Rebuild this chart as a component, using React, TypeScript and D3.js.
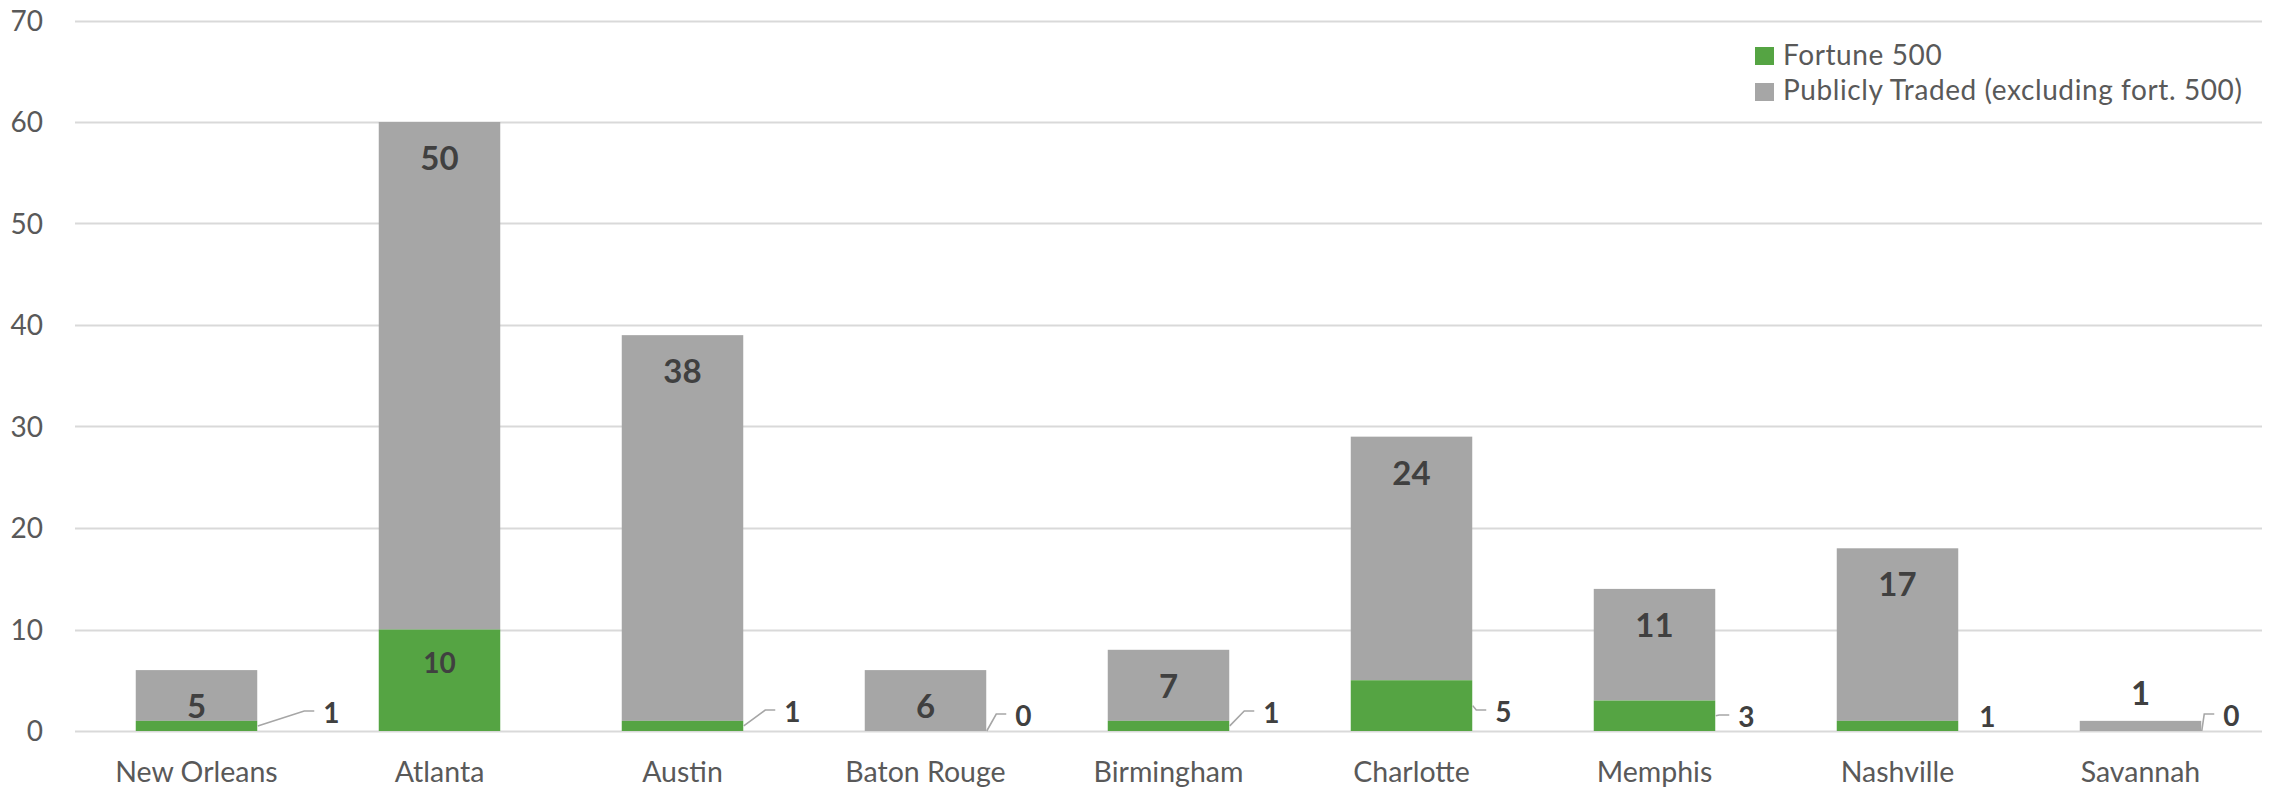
import React from "react";
import * as d3 from "d3";

const categories = ["New Orleans", "Atlanta", "Austin", "Baton Rouge", "Birmingham", "Charlotte", "Memphis", "Nashville", "Savannah"];
const fortune500 = [1, 10, 1, 0, 1, 5, 3, 1, 0];
const publiclyTraded = [5, 50, 38, 6, 7, 24, 11, 17, 1];
const yTicks = [0, 10, 20, 30, 40, 50, 60, 70];
const seriesNames = ["Fortune 500", "Publicly Traded (excluding fort. 500)"];

// label placement (style/layout config): callout offsets for Fortune 500 labels
const calloutLayout: ({ dx: number; dy: number; leader: boolean } | null)[] = [
  { dx: 66, dy: -18, leader: true },
  null,
  { dx: 41, dy: -19, leader: true },
  { dx: 29, dy: -15, leader: true },
  { dx: 34, dy: -18, leader: true },
  { dx: 23, dy: -19, leader: true },
  { dx: 23, dy: -14, leader: true },
  { dx: 21, dy: -14, leader: false },
  { dx: 22, dy: -15, leader: true },
];

const W = 2269;
const H = 787;
const GREEN = "#55A443";
const GRAY = "#A6A6A6";
const FONT = "Lato, 'Open Sans', sans-serif";

export default function App() {
  const x = d3.scaleBand<string>().domain(categories).range([75, 2262]).paddingInner(0.5).paddingOuter(0.25);
  const y = d3.scaleLinear().domain([0, 70]).range([731, 20.5]);
  const bw = x.bandwidth();

  return (
    <svg width={W} height={H} style={{ position: "absolute", left: 0, top: 0, background: "#fff" }} fontFamily={FONT}>
      {yTicks.map((t) => (
        <g key={t}>
          <line x1={75} x2={2262} y1={Math.round(y(t)) + 0.5} y2={Math.round(y(t)) + 0.5} stroke="#D9D9D9" strokeWidth={2} />
          <text x={43} y={y(t) + 0.36 * 28} textAnchor="end" fontSize={28} fill="#595959">{t}</text>
        </g>
      ))}
      {categories.map((c, i) => {
        const x0 = x(c)!;
        const f = fortune500[i];
        const p = publiclyTraded[i];
        const total = f + p;
        const grayH = y(f) - y(total);
        const grayLabelY = grayH < 40 ? y(total) - 28 : y(total) + 36;
        const cl = calloutLayout[i];
        const barRight = x0 + bw;
        let greenLabel: React.ReactNode = null;
        if (cl === null) {
          greenLabel = (
            <text x={x0 + bw / 2} y={y(f) + 33 + 0.36 * 28} textAnchor="middle" fontSize={28} fontWeight="bold" fill="#404040">{f}</text>
          );
        } else {
          const lx = barRight + cl.dx;
          const cy = y(0) + cl.dy;
          const sy = y(f / 2);
          const ex = lx - 9;
          const ey = cy - 2;
          const elx = Math.max(barRight + 1, ex - 10);
          greenLabel = (
            <g>
              {cl.leader && (
                <polyline points={`${barRight + 0.5},${sy} ${elx},${ey} ${ex},${ey}`} fill="none" stroke={GRAY} strokeWidth={1.6} />
              )}
              <text x={lx} y={cy + 0.36 * 28} textAnchor="start" fontSize={28} fontWeight="bold" fill="#404040">{f}</text>
            </g>
          );
        }
        return (
          <g key={c}>
            <rect x={x0} y={y(total)} width={bw} height={y(f) - y(total)} fill={GRAY} />
            {f > 0 && <rect x={x0} y={y(f)} width={bw} height={y(0) - y(f)} fill={GREEN} />}
            <text x={x0 + bw / 2} y={grayLabelY + 0.36 * 33} textAnchor="middle" fontSize={33} fontWeight="bold" fill="#404040">{p}</text>
            {greenLabel}
            <text x={x0 + bw / 2} y={782} textAnchor="middle" fontSize={28.5} fill="#595959">{c}</text>
          </g>
        );
      })}
      <g>
        <rect x={1755} y={47} width={19} height={18} fill={GREEN} />
        <text x={1783} y={65} fontSize={28} letterSpacing={0.6} fill="#595959">{seriesNames[0]}</text>
        <rect x={1755} y={83} width={19} height={18} fill={GRAY} />
        <text x={1783} y={100} fontSize={28} letterSpacing={0.6} fill="#595959">{seriesNames[1]}</text>
      </g>
    </svg>
  );
}
